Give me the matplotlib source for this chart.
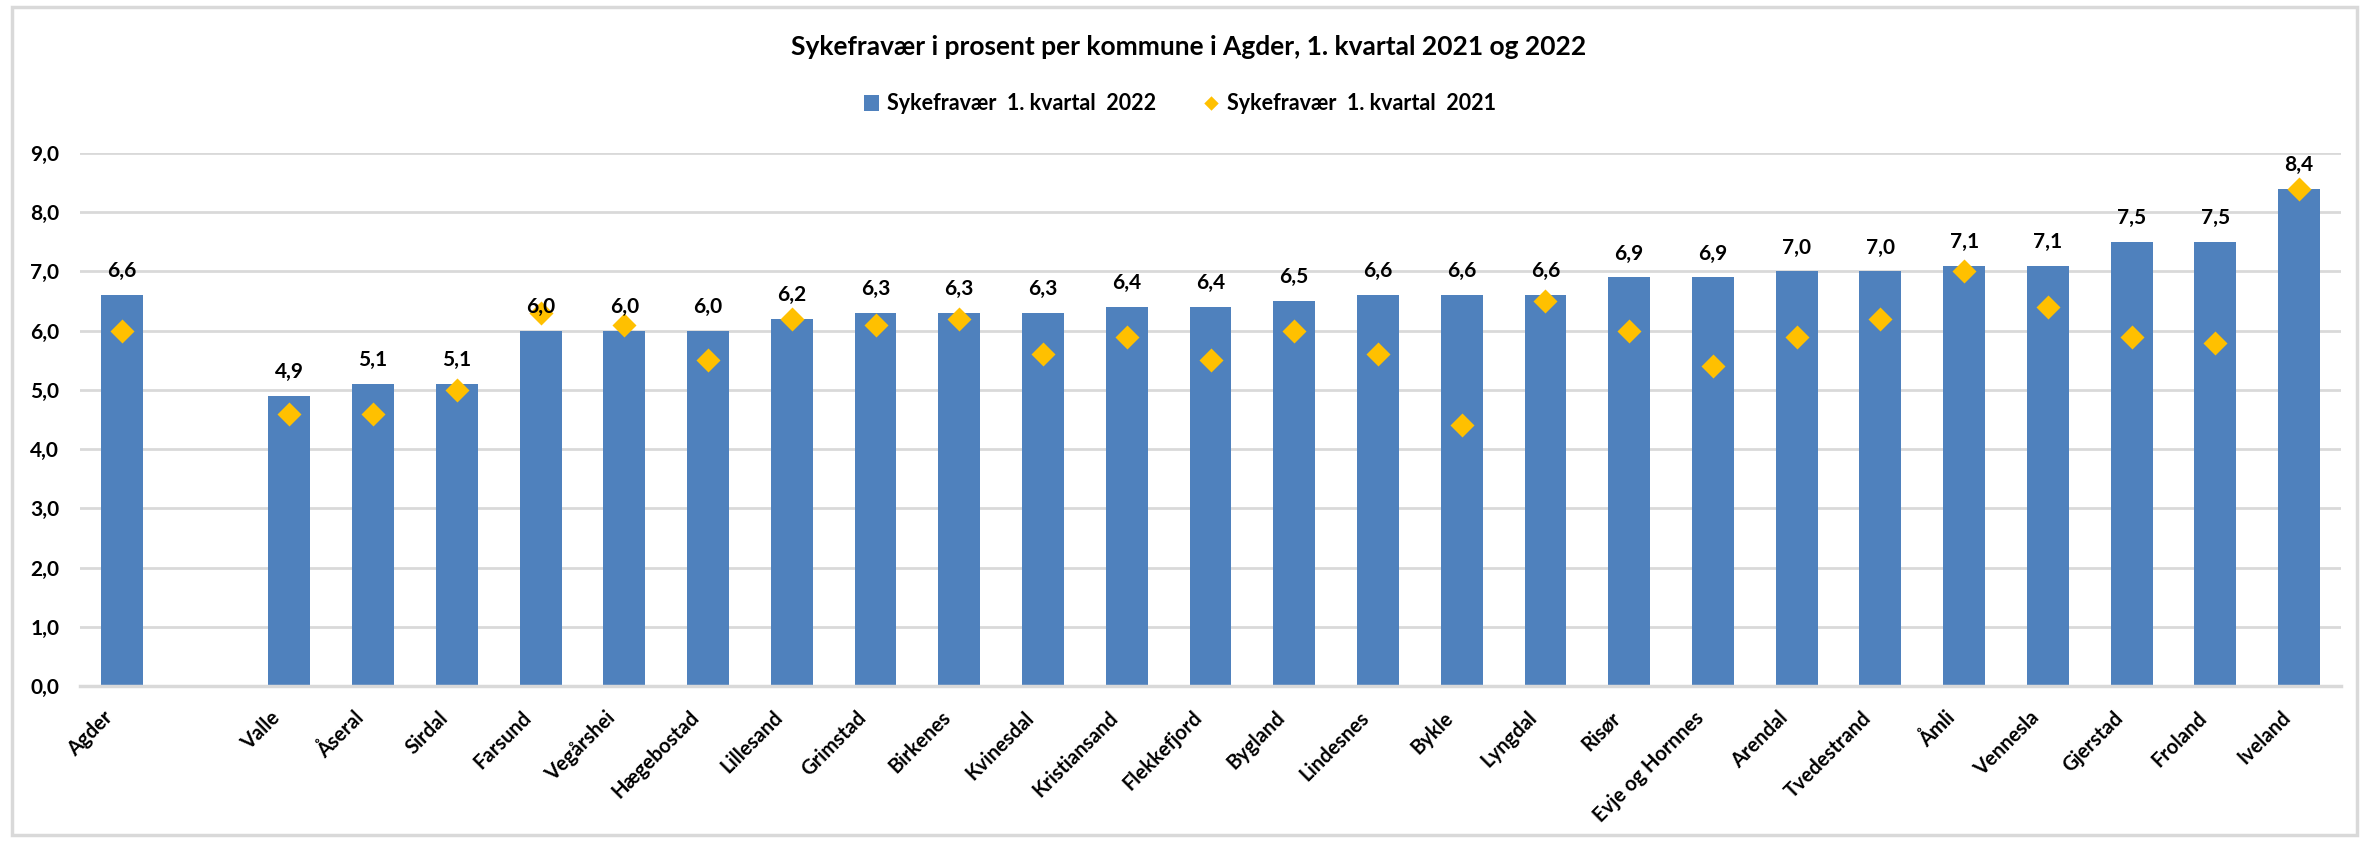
import matplotlib
matplotlib.use("Agg")
import matplotlib.pyplot as plt
import matplotlib.transforms as mtransforms
from matplotlib.patches import Rectangle
import numpy as np

categories = ["Agder", "", "Valle", "Åseral", "Sirdal", "Farsund", "Vegårshei", "Hægebostad",
              "Lillesand", "Grimstad", "Birkenes", "Kvinesdal", "Kristiansand", "Flekkefjord",
              "Bygland", "Lindesnes", "Bykle", "Lyngdal", "Risør", "Evje og Hornnes", "Arendal",
              "Tvedestrand", "Åmli", "Vennesla", "Gjerstad", "Froland", "Iveland"]
values_2022 = [6.6, np.nan, 4.9, 5.1, 5.1, 6.0, 6.0, 6.0, 6.2, 6.3, 6.3, 6.3, 6.4, 6.4,
               6.5, 6.6, 6.6, 6.6, 6.9, 6.9, 7.0, 7.0, 7.1, 7.1, 7.5, 7.5, 8.4]
values_2021 = [6.0, np.nan, 4.6, 4.6, 5.0, 6.3, 6.1, 5.5, 6.2, 6.1, 6.2, 5.6, 5.9, 5.5,
               6.0, 5.6, 4.4, 6.5, 6.0, 5.4, 5.9, 6.2, 7.0, 6.4, 5.9, 5.8, 8.4]
yticks = [0, 1, 2, 3, 4, 5, 6, 7, 8, 9]
title = "Sykefravær i prosent per kommune i Agder, 1. kvartal 2021 og 2022"
label_2022 = "Sykefravær  1. kvartal  2022"
label_2021 = "Sykefravær  1. kvartal  2021"

plt.rcParams['font.family'] = ['Lato', 'DejaVu Sans']

W, H = 2372, 842
fig = plt.figure(figsize=(W / 100, H / 100), dpi=100)
ax = fig.add_axes([80 / W, 1 - 686 / H, (2341 - 80) / W, (686 - 153) / H])

bar_color = "#4F81BD"
dia_color = "#FFC000"
grid_color = "#D9D9D9"

x = np.arange(len(categories))
bars = ax.bar(x, values_2022, width=0.5, color=bar_color, zorder=2, label=label_2022)
diamond = [(0, 1), (1, 0), (0, -1), (-1, 0), (0, 1)]
pts, = ax.plot(x, values_2021, linestyle='none', marker=diamond, markersize=17.3,
               color=dia_color, markeredgewidth=0, zorder=3, label=label_2021)

for xi, v in zip(x, values_2022):
    if np.isnan(v):
        continue
    ax.annotate(f"{v:.1f}".replace(".", ","), (xi, v), xytext=(0, 10),
                textcoords="offset points", ha="center", va="bottom",
                fontsize=15, fontweight="bold", color="black", zorder=4)

ax.set_xlim(-0.5, len(categories) - 0.5)
ax.set_ylim(0, 9)
ax.set_yticks(yticks)
ax.set_yticklabels([f"{t:.1f}".replace(".", ",") for t in yticks],
                   fontsize=15, fontweight="bold")
ax.yaxis.grid(True, color=grid_color, linewidth=2, zorder=0)
ax.set_axisbelow(True)
ax.tick_params(axis='y', length=0, pad=15)
ax.tick_params(axis='x', length=0, pad=12)
ax.set_xticks(x)
ax.set_xticklabels(categories, rotation=45, ha="right", va="center",
                   rotation_mode="anchor", fontsize=14.5, fontweight="bold")
offset = mtransforms.ScaledTranslation(-12 / 100, -12 / 100, fig.dpi_scale_trans)
for lbl in ax.get_xticklabels():
    lbl.set_transform(lbl.get_transform() + offset)
for s in ["top", "right", "left"]:
    ax.spines[s].set_visible(False)
ax.spines["bottom"].set_color(grid_color)
ax.spines["bottom"].set_linewidth(2.5)

fig.text(1189 / W, 1 - 47 / H, title, ha="center", va="center",
         fontsize=19, fontweight="bold")

leg = fig.legend([bars, pts], [label_2022, label_2021], loc="center",
                 bbox_to_anchor=(1180 / W, 1 - 104 / H),
                 ncol=2, frameon=False, prop={'weight': 'bold', 'size': 15.5},
                 handlelength=0.7, handleheight=0.7, handletextpad=0.4,
                 columnspacing=2.2, markerscale=0.6)

fig.patches.append(Rectangle((12 / W, 7 / H), (2357 - 12) / W, (835 - 7) / H,
                             transform=fig.transFigure, fill=False,
                             edgecolor=grid_color, linewidth=2.5))

fig.savefig("out.png", dpi=100, facecolor="white")
